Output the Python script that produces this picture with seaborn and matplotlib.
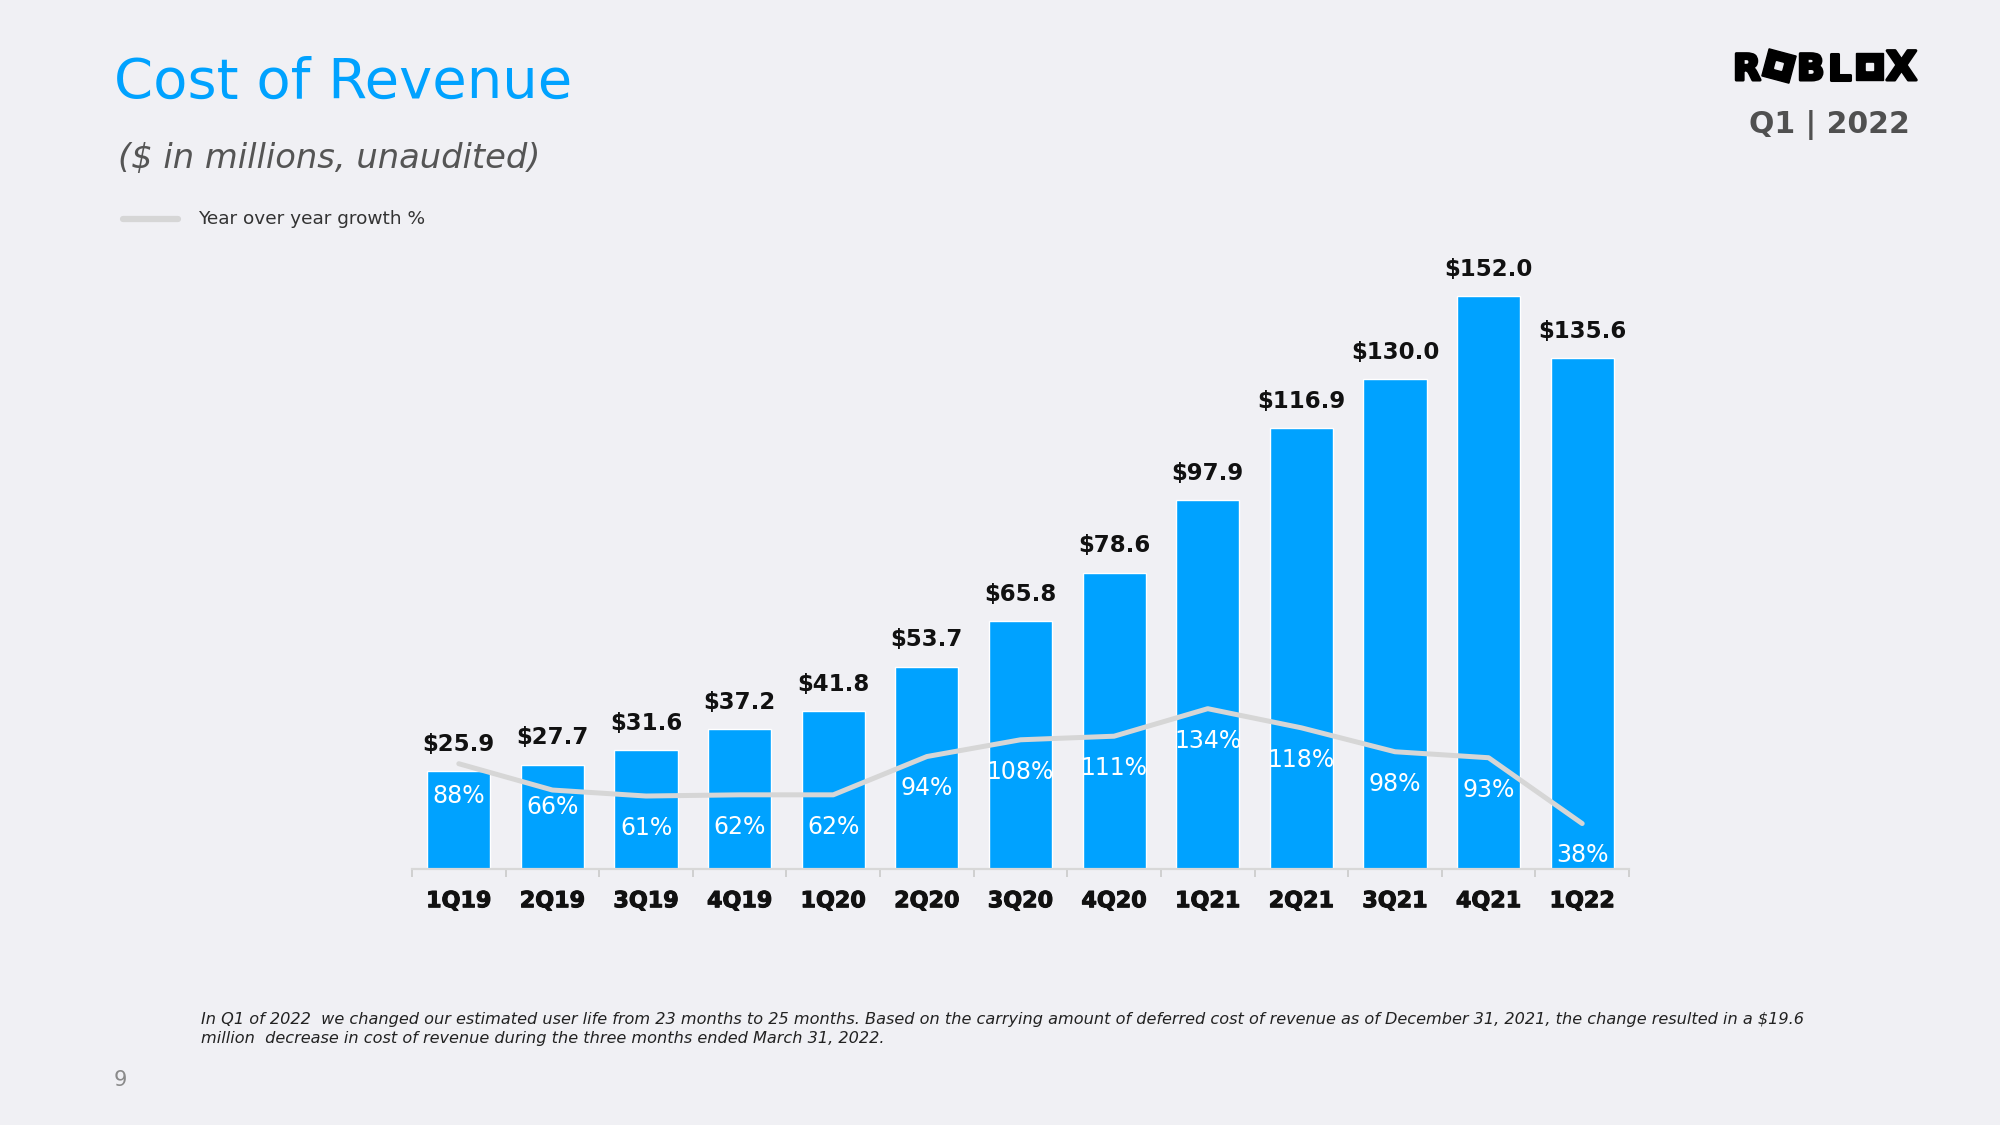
import numpy as np
import pandas as pd
import matplotlib.pyplot as plt
import seaborn as sns
from matplotlib.patches import Rectangle
from matplotlib.lines import Line2D
import matplotlib.patheffects as pe

# data
quarters = ['1Q19', '2Q19', '3Q19', '4Q19', '1Q20', '2Q20', '3Q20',
            '4Q20', '1Q21', '2Q21', '3Q21', '4Q21', '1Q22']
cost = [25.9, 27.7, 31.6, 37.2, 41.8, 53.7, 65.8, 78.6, 97.9, 116.9, 130.0, 152.0, 135.6]
growth = [88, 66, 61, 62, 62, 94, 108, 111, 134, 118, 98, 93, 38]

# styling
BG = '#F0F0F4'
BLUE = '#00A2FF'
LINE = '#D6D6D6'
pct_offset = [-23, -12, -23, -23, -23, -23, -23, -23, -23, -23, -23, -23, -23]

sns.set_theme(style='white')
sns.set_style(rc={'axes.facecolor': 'none', 'figure.facecolor': BG})
plt.rcParams['font.family'] = ['DejaVu Sans']

df = pd.DataFrame({'quarter': quarters, 'cost': cost, 'growth': growth})

fig = plt.figure(figsize=(20, 11.25), dpi=100)
fig.patch.set_facecolor(BG)

ax = fig.add_axes([412 / 2000, 256 / 1125, 1217 / 2000, 603 / 1125])
sns.barplot(data=df, x='quarter', y='cost', color=BLUE, saturation=1,
            width=0.674, ax=ax)
ax.set_xlim(-0.5, len(quarters) - 0.5)
ax.set_ylim(0, 160)
ax.bar_label(ax.containers[0], labels=[f'${v:.1f}' for v in cost],
             padding=11, fontsize=16.5, fontweight='bold', color='#111111')

# growth line on a twin axis (0 shares the baseline)
ax2 = ax.twinx()
sns.lineplot(x=np.arange(len(growth)), y=growth, ax=ax2, color=LINE,
             linewidth=3.6, solid_capstyle='round')
ax2.set_ylim(0, 504)
ax2.set_xlim(-0.5, len(quarters) - 0.5)
ax2.axis('off')
for i, g in enumerate(growth):
    ax2.annotate(f'{g}%', (i, g), xytext=(0, pct_offset[i]),
                 textcoords='offset points', ha='center', va='center',
                 fontsize=17, color='white')

# axes cosmetics
for s in ['top', 'right', 'left']:
    ax.spines[s].set_visible(False)
ax.spines['bottom'].set_color('#D8D8D8')
ax.spines['bottom'].set_linewidth(1.6)
ax.set_yticks([])
ax.set_xlabel('')
ax.set_ylabel('')
ax.set_xticks(np.arange(-0.5, len(quarters)), minor=True)
ax.tick_params(axis='x', which='major', length=0, pad=16,
               labelsize=16, labelcolor='#111111')
ax.tick_params(axis='x', which='minor', length=6, width=1.4,
               color='#D0D0D0', bottom=True)
for t in ax.get_xticklabels():
    t.set_fontweight('bold')
    t.set_path_effects([pe.withStroke(linewidth=0.8, foreground='#111111')])

# header, legend, footnote on a pixel overlay
ov = fig.add_axes([0, 0, 1, 1])
ov.set_xlim(0, 2000)
ov.set_ylim(1125, 0)
ov.axis('off')
ov.patch.set_alpha(0)

ov.text(114, 98, 'Cost of Revenue', fontsize=40.3, color=BLUE,
        ha='left', va='baseline')
ov.text(118, 168, '($ in millions, unaudited)', fontsize=24.3, color='#555555',
        style='italic', ha='left', va='baseline')
ov.add_line(Line2D([123, 178], [219, 219], color=LINE, linewidth=4.5))
ov.text(198, 224, 'Year over year growth %', fontsize=13.3, color='#333333',
        ha='left', va='baseline')

# logo
heavy = [pe.withStroke(linewidth=2.2, foreground='black')]
for txt, x, fs in [('R', 1733, 26), ('B', 1797, 26), ('L', 1828, 26), ('X', 1886, 29)]:
    ov.text(x, 80, txt, fontsize=fs, fontweight='heavy', color='black',
            ha='left', va='baseline', path_effects=heavy)
ov.add_patch(Rectangle((1765, 52), 28, 28, angle=15, rotation_point='center',
                       color='black'))
ov.add_patch(Rectangle((1775.5, 62.5), 7, 7, angle=15, rotation_point='center',
                       color=BG))
ov.add_patch(Rectangle((1856, 53), 27, 27, color='black'))
ov.add_patch(Rectangle((1866, 63), 7, 7, color=BG))
ov.text(1829, 133, 'Q1 | 2022', fontsize=21.5, fontweight='bold', color='#505050',
        ha='center', va='baseline')

ov.text(201, 1024, 'In Q1 of 2022  we changed our estimated user life from 23 months to 25 months. '
        'Based on the carrying amount of deferred cost of revenue as of December 31, 2021, '
        'the change resulted in a $19.6', fontsize=11.65, style='italic',
        color='#222222', ha='left', va='baseline')
ov.text(201, 1043, 'million  decrease in cost of revenue during the three months ended March 31, 2022.',
        fontsize=11.65, style='italic', color='#222222', ha='left', va='baseline')
ov.text(114, 1086, '9', fontsize=15, color='#8A8A8A', ha='left', va='baseline')

fig.savefig('out.png', dpi=100, facecolor=BG)
